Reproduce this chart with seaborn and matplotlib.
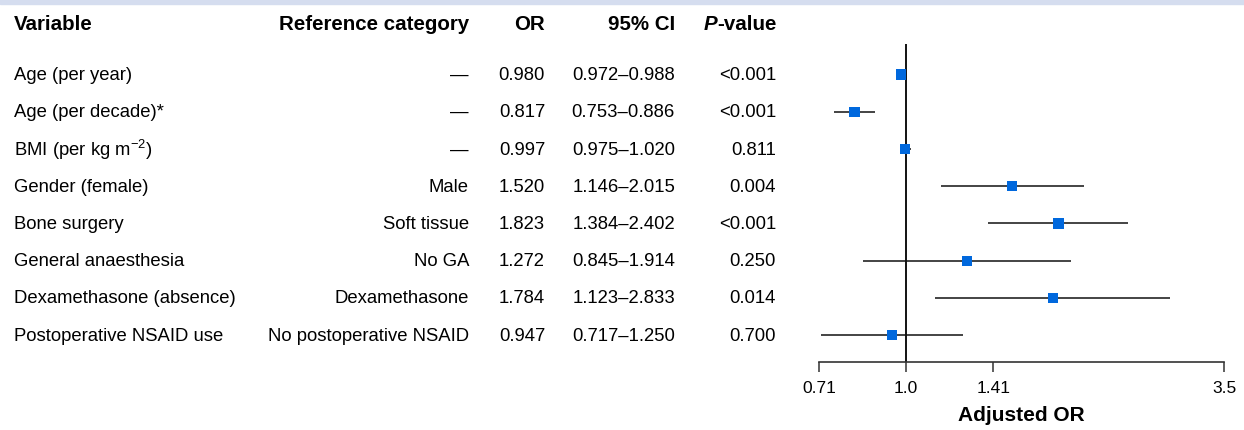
import matplotlib
matplotlib.use("Agg")
import matplotlib.pyplot as plt
import matplotlib.transforms as mtransforms
from matplotlib.patches import Rectangle
import pandas as pd
import seaborn as sns

variables = ["Age (per year)", "Age (per decade)*", r"BMI (per kg m$^{-2}$)", "Gender (female)",
             "Bone surgery", "General anaesthesia", "Dexamethasone (absence)", "Postoperative NSAID use"]
ref_cats = ["—", "—", "—", "Male", "Soft tissue", "No GA", "Dexamethasone", "No postoperative NSAID"]
odds = [0.980, 0.817, 0.997, 1.520, 1.823, 1.272, 1.784, 0.947]
ci_low = [0.972, 0.753, 0.975, 1.146, 1.384, 0.845, 1.123, 0.717]
ci_high = [0.988, 0.886, 1.020, 2.015, 2.402, 1.914, 2.833, 1.250]
p_values = ["<0.001", "<0.001", "0.811", "0.004", "<0.001", "0.250", "0.014", "0.700"]
tick_vals = [0.71, 1.0, 1.41, 3.5]
tick_labels = ["0.71", "1.0", "1.41", "3.5"]

df = pd.DataFrame({"var": variables, "ref": ref_cats, "OR": odds, "lo": ci_low, "hi": ci_high, "p": p_values})
df["row"] = range(len(df))

sns.set_style("white")
plt.rcParams["font.family"] = ["Liberation Sans", "DejaVu Sans"]
plt.rcParams["mathtext.fontset"] = "custom"
plt.rcParams["mathtext.rm"] = "Liberation Sans"
plt.rcParams["mathtext.it"] = "Liberation Sans:italic"
plt.rcParams["mathtext.bf"] = "Liberation Sans:bold"
plt.rcParams["text.color"] = "black"
plt.rcParams["axes.labelcolor"] = "black"
plt.rcParams["xtick.color"] = "black"

W, H = 1244, 431
fig = plt.figure(figsize=(W / 100, H / 100), dpi=100)
fig.patches.append(Rectangle((0, 1 - 5 / H), 1, 5 / H, transform=fig.transFigure,
                             color="#d5ddef", zorder=0))

ax = fig.add_axes([819 / W, 1 - 363 / H, (1224 - 819) / W, (363 - 45) / H])
ax.set_xscale("log")
ax.set_xlim(0.71, 3.5)
ax.set_ylim(7.72, -0.82)

ax.axvline(1.0, color="black", lw=1.3, zorder=1)
ax.hlines(df["row"], df["lo"], df["hi"], color="#111111", lw=1.1, zorder=2)
sns.scatterplot(data=df, x="OR", y="row", marker="s", s=55, color="#0068dd",
                edgecolor="none", ax=ax, zorder=3, legend=False)

ax.set_xticks(tick_vals)
ax.set_xticklabels(tick_labels)
ax.xaxis.set_minor_locator(matplotlib.ticker.NullLocator())
ax.tick_params(axis="x", direction="out", length=7, width=1.1, color="#333333",
               labelsize=12.5, labelcolor="black", pad=6, bottom=True)
ax.set_yticks([])
for s in ["top", "left", "right"]:
    ax.spines[s].set_visible(False)
ax.spines["bottom"].set_linewidth(1.2)
ax.spines["bottom"].set_color("#333333")
ax.set_xlabel("Adjusted OR", fontsize=15, fontweight="bold", labelpad=7)
ax.set_ylabel("")

# Table on the left
tr = mtransforms.blended_transform_factory(fig.transFigure, ax.transData)
body = 13.3
for _, r in df.iterrows():
    y = r["row"]
    ax.text(14 / W, y, r["var"], transform=tr, ha="left", va="center", fontsize=body)
    ax.text(469 / W, y, r["ref"], transform=tr, ha="right", va="center", fontsize=body)
    ax.text(545 / W, y, f"{r['OR']:.3f}", transform=tr, ha="right", va="center", fontsize=body)
    ax.text(675 / W, y, f"{r['lo']:.3f}–{r['hi']:.3f}", transform=tr, ha="right", va="center", fontsize=body)
    ax.text(776 / W, y, r["p"], transform=tr, ha="right", va="center", fontsize=body)

hy = 1 - 24 / H
head = 14.8
fig.text(14 / W, hy, "Variable", ha="left", va="center", fontsize=head, fontweight="bold")
fig.text(469 / W, hy, "Reference category", ha="right", va="center", fontsize=head, fontweight="bold")
fig.text(545 / W, hy, "OR", ha="right", va="center", fontsize=head, fontweight="bold")
fig.text(675 / W, hy, "95% CI", ha="right", va="center", fontsize=head, fontweight="bold")
pv = fig.text(777 / W, hy, "-value", ha="right", va="center", fontsize=head, fontweight="bold")
fig.canvas.draw()
x0 = pv.get_window_extent().x0
fig.text(x0 / W, hy, "P", ha="right", va="center", fontsize=head, fontweight="bold", fontstyle="italic")

fig.savefig("out.png", dpi=100)
